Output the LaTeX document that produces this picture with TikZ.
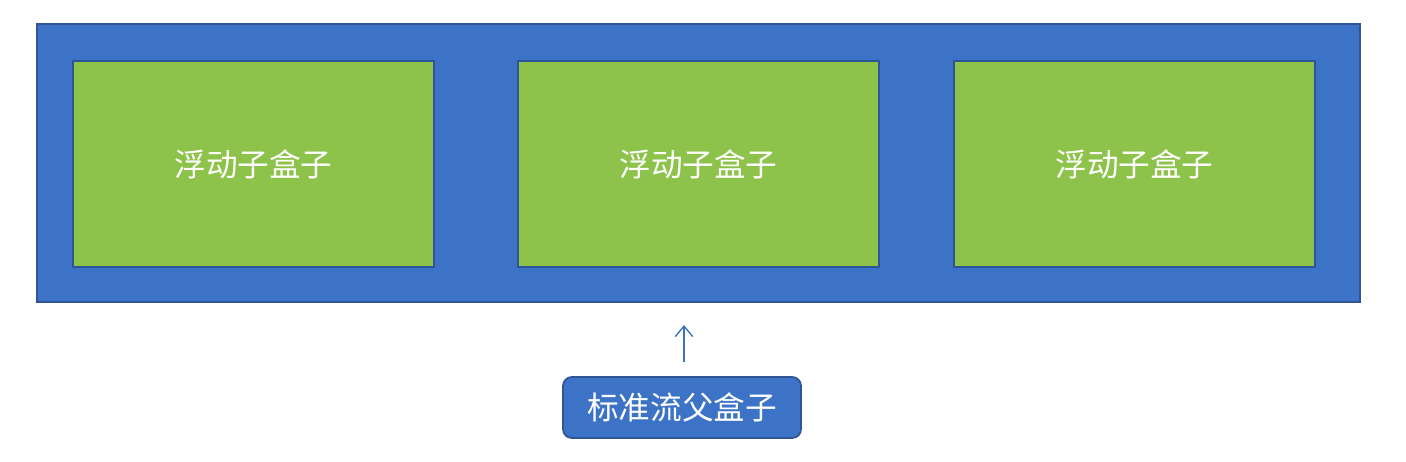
\documentclass[tikz,border=0pt]{standalone}
\usepackage{fontspec}
\usepackage{xcolor}
\usetikzlibrary{arrows.meta,positioning}
\newfontfamily\cjk{Noto Sans CJK SC}
\definecolor{parentblue}{HTML}{3C73C6}
\definecolor{edgeblue}{HTML}{2F5597}
\definecolor{floatgreen}{HTML}{8DC34A}

\begin{document}
\begin{tikzpicture}[x=0.02cm, y=-0.02cm, >={Straight Barb[length=6pt,width=10pt]}]
        \tikzset{
                basic/.style  = {draw=edgeblue, line width=1pt, text=white, font=\cjk\fontsize{18}{20}\selectfont,
                                rectangle, inner sep=0pt},
                parent/.style = {basic, fill=parentblue, minimum width=26.46cm, minimum height=5.56cm},
                floatbox/.style = {basic, fill=floatgreen, minimum width=7.22cm, minimum height=4.12cm},
                tag/.style    = {basic, fill=parentblue, rounded corners=5pt,
                                minimum width=4.76cm, minimum height=1.22cm}
        }
        \useasboundingbox (0,0) rectangle (1406,461);
        % standard flow parent box
        \node[parent] (p) at (698.5,163) {};
        % the three floating children
        \node[floatbox] (f1) at (253.5,164) {浮动子盒子};
        \node[floatbox] (f2) at (698.5,164) {浮动子盒子};
        \node[floatbox] (f3) at (1134.5,164) {浮动子盒子};
        % label below, pointing up to the parent
        \node[tag] (t) at (682,407.5) {标准流父盒子};
        \coordinate (tail) at (684,362);
        \coordinate (tip) at (684,325);
        \draw[->, parentblue, line width=0.8pt] (tail) -- (tip);
\end{tikzpicture}
\end{document}
